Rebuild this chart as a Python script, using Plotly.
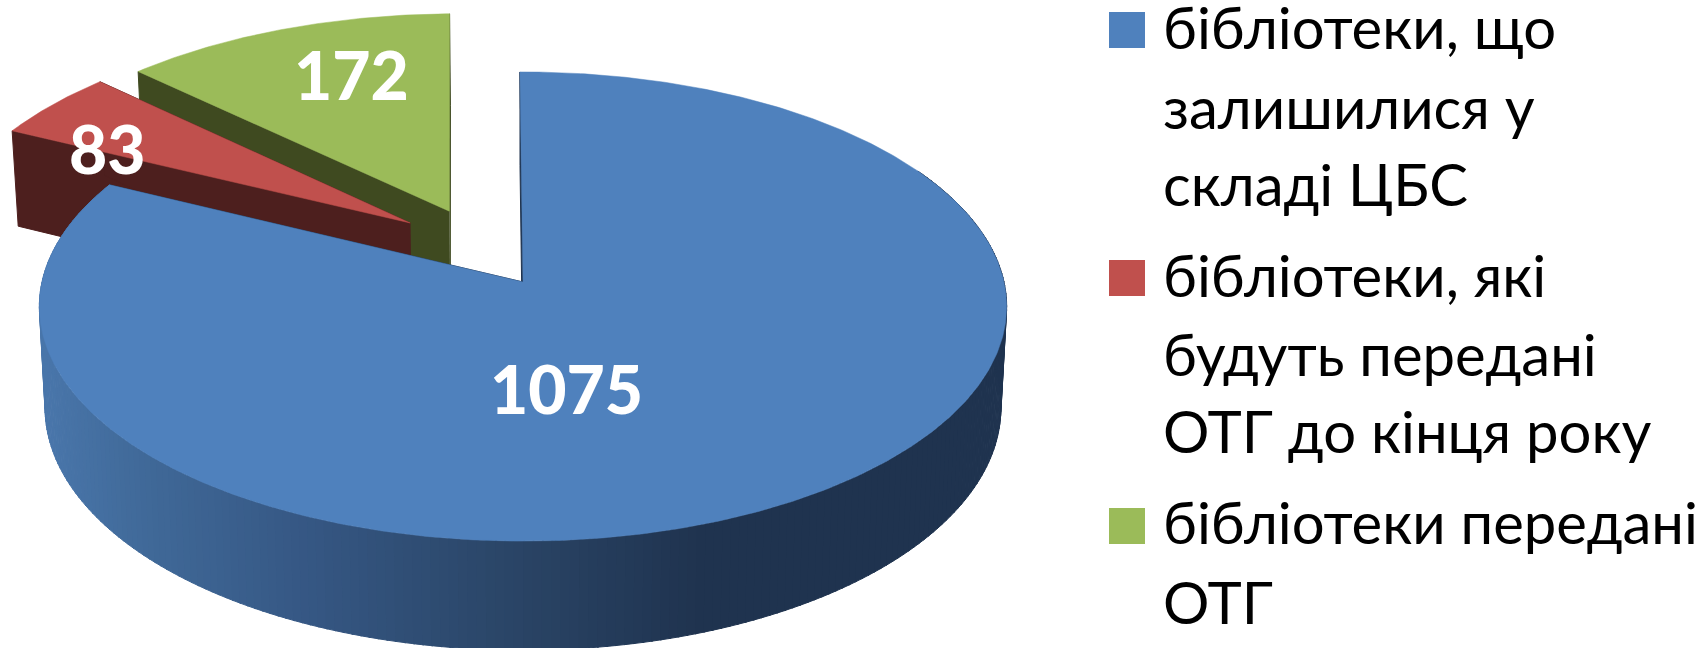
import numpy as np
import plotly.graph_objects as go

# ---- data ----
labels = ["бібліотеки, що залишилися у складі ЦБС",
          "бібліотеки, які будуть передані ОТГ до кінця року",
          "бібліотеки передані ОТГ"]
values = [1075, 83, 172]
colors_top = ["#4F81BD", "#C0504D", "#9BBB59"]
colors_wall = ["#1F334F", "#4D1F1E", "#3F4A20"]
legend_lines = [["бібліотеки, що", "залишилися у", "складі ЦБС"],
                ["бібліотеки, які", "будуть передані", "ОТГ до кінця року"],
                ["бібліотеки передані", "ОТГ"]]

# ---- projection of the 3-D pie (perspective view, pixels of the page) ----
W, H = 1708, 648
CX, CY, A, B, K, DEPTH, SHRINK = 523, 282, 481, 232, 0.1046, 101.6, 1.012
# plane offset (explosion) per slice
pull = [(0.0, 0.0), (-0.2408, 0.2613), (-0.158, 0.315)]
RED_BLUE_EDGE_SHIFT = -5.0   # the drawn red wedge is a little narrower than its share
GREEN_START, BLUE_STOP = 0.9, 360.4   # slight rotation of the pie's first edge


def proj(X, Y, bottom=False):
    X, Y = np.asarray(X, float), np.asarray(Y, float)
    w = 1 + K * Y
    if bottom:
        return CX + A * X / (w * SHRINK), CY + (-B * Y + DEPTH) / (w * SHRINK)
    return CX + A * X / w, CY - B * Y / w


def rim(phi, off):
    r = np.radians(phi)
    return -np.sin(r) + off[0], np.cos(r) + off[1]


# angles run counter-clockwise from the top, green first, then red, then blue
g_end = values[2] / sum(values) * 360
r_end = g_end + values[1] / sum(values) * 360 + RED_BLUE_EDGE_SHIFT
spans = {2: (GREEN_START, g_end), 1: (g_end, r_end), 0: (r_end, BLUE_STOP)}

fig = go.Figure()


def poly(xs, ys, color, lw=1.0):
    fig.add_trace(go.Scatter(x=list(xs), y=list(ys), mode="lines", fill="toself",
                             fillcolor=color, line=dict(color=color, width=lw),
                             hoverinfo="skip", showlegend=False))


def radial_wall(i, phi):
    off = pull[i]
    ox, oy = rim(phi, off)
    xs, ys = [off[0], ox], [off[1], oy]
    tx, ty = proj(xs, ys)
    bx, by = proj(xs, ys, bottom=True)
    poly(list(tx) + list(bx[::-1]), list(ty) + list(by[::-1]), colors_wall[i])


def top_face(i):
    a0, a1 = spans[i]
    phis = np.linspace(a0, a1, int((a1 - a0) * 2) + 2)
    rx, ry = rim(phis, pull[i])
    xs = np.r_[pull[i][0], rx, pull[i][0]]
    ys = np.r_[pull[i][1], ry, pull[i][1]]
    px, py = proj(xs, ys)
    poly(px, py, colors_top[i], 0.5)


# green, then red: back to front
for i in (2, 1):
    a0, a1 = spans[i]
    radial_wall(i, a1)
    radial_wall(i, a0)
    top_face(i)

# blue side with its horizontal light gradient
grad_x = [40, 150, 300, 500, 700, 1010]
grad_c = np.array([[74, 119, 172], [64, 105, 152], [54, 88, 133],
                   [43, 70, 104], [31, 51, 79], [31, 51, 79]], float)
radial_wall(0, BLUE_STOP)
radial_wall(0, spans[0][0])
for p0 in np.arange(spans[0][0], 300, 1.0):
    ph = np.array([p0, p0 + 1.2])
    rx, ry = rim(ph, pull[0])
    tx, ty = proj(rx, ry)
    bx, by = proj(rx, ry, bottom=True)
    xm = float(np.mean(bx))
    c = [int(round(np.interp(xm, grad_x, grad_c[:, k]))) for k in range(3)]
    poly(list(tx) + list(bx[::-1]), list(ty) + list(by[::-1]), f"rgb({c[0]},{c[1]},{c[2]})")
top_face(0)

# data labels
val_pos = [(566, 388), (107, 148), (351, 74)]
annotations = []
for v, (x, y) in zip(values, val_pos):
    annotations.append(dict(x=x, y=y, text=str(v), showarrow=False,
                            font=dict(family="Lato, 'Open Sans', sans-serif", size=66, color="white", weight=900),
                            xanchor="center", yanchor="middle"))

# legend
sq_y = [30, 278, 526]
line_y = [[26, 106, 183], [274, 353, 430], [521, 601]]
for i, lines in enumerate(legend_lines):
    fig.add_trace(go.Scatter(x=[1127], y=[sq_y[i]], mode="markers",
                             marker=dict(symbol="square", size=36, color=colors_top[i]),
                             name=labels[i], hoverinfo="skip", showlegend=False))
    for t, y in zip(lines, line_y[i]):
        annotations.append(dict(x=1161, y=y, text=t, showarrow=False,
                                font=dict(family="Lato, 'Noto Sans', sans-serif", size=58, color="black"),
                                xanchor="left", yanchor="middle"))

fig.update_layout(width=W, height=H, margin=dict(l=0, r=0, t=0, b=0),
                  paper_bgcolor="white", plot_bgcolor="white", showlegend=False,
                  xaxis=dict(range=[0, W], visible=False, fixedrange=True),
                  yaxis=dict(range=[H, 0], visible=False, fixedrange=True),
                  annotations=annotations)
fig.write_html("out.html", post_script="document.body.style.margin='0';document.body.style.overflow='hidden';",
               config=dict(displayModeBar=False))
